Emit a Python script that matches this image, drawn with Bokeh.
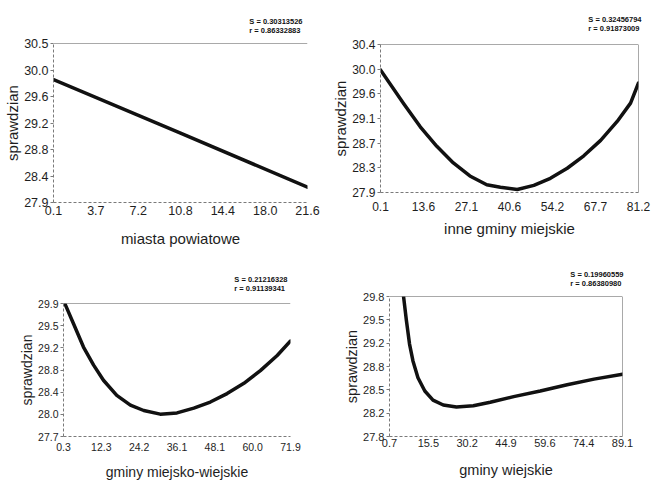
import numpy as np
from bokeh.plotting import figure
from bokeh.layouts import column, row
from bokeh.models import Range1d, FixedTicker, Span
from bokeh.embed import file_html
from bokeh.resources import INLINE

# ---------------- data ----------------
# panel 1: miasta powiatowe
p1_x = [0.1, 10.8, 21.6]
p1_y = [29.91, 29.04, 28.15]
p1_xticks = ["0.1", "3.7", "7.2", "10.8", "14.4", "18.0", "21.6"]
p1_yticks = ["27.9", "28.4", "28.8", "29.2", "29.6", "30.0", "30.5"]
p1_stats = ["S = 0.30313526", "r = 0.86332883"]

# panel 2: inne gminy miejskie
p2_x = [0.1, 7.4, 12.6, 17.8, 23.0, 28.2, 33.5, 37.8, 43.1, 48.3, 53.5, 58.8, 64.0, 69.3, 74.5, 78.7, 81.2]
p2_y = [29.97, 29.40, 29.01, 28.68, 28.40, 28.18, 28.03, 27.99, 27.95, 28.02, 28.14, 28.31, 28.52, 28.78, 29.10, 29.41, 29.75]
p2_xticks = ["0.1", "13.6", "27.1", "40.6", "54.2", "67.7", "81.2"]
p2_yticks = ["27.9", "28.3", "28.7", "29.1", "29.6", "30.0", "30.4"]
p2_stats = ["S = 0.32456794", "r = 0.91873009"]

# panel 3: gminy miejsko-wiejskie
p3_x = [0.8, 3.5, 6.6, 9.8, 12.9, 17.1, 21.4, 25.6, 30.8, 36.1, 41.4, 46.6, 51.9, 57.2, 62.4, 67.7, 71.9]
p3_y = [29.89, 29.56, 29.18, 28.88, 28.63, 28.38, 28.22, 28.13, 28.07, 28.09, 28.17, 28.27, 28.41, 28.58, 28.79, 29.04, 29.28]
p3_xticks = ["0.3", "12.3", "24.2", "36.1", "48.1", "60.0", "71.9"]
p3_yticks = ["27.7", "28.0", "28.4", "28.8", "29.2", "29.5", "29.9"]
p3_stats = ["S = 0.21216328", "r = 0.91139341"]

# panel 4: gminy wiejskie
p4_x = [6.0, 7.1, 8.3, 9.6, 11.5, 14.1, 17.2, 21.1, 26.1, 32.5, 38.9, 47.8, 57.9, 68.1, 78.3, 89.1]
p4_y = [29.81, 29.46, 29.12, 28.88, 28.64, 28.45, 28.32, 28.25, 28.22, 28.24, 28.29, 28.37, 28.45, 28.54, 28.62, 28.69]
p4_xticks = ["0.7", "15.5", "30.2", "44.9", "59.6", "74.4", "89.1"]
p4_yticks = ["27.8", "28.2", "28.5", "28.8", "29.2", "29.5", "29.8"]
p4_stats = ["S = 0.19960559", "r = 0.86380980"]

TXT = "#1e1e1e"
AX = "#7a7a7a"
FONT = "Liberation Sans"


def panel(xs, ys, xt, yt, stats, xlabel, w, h, borders, tick_fs, lab_fs,
          x_std, x_lab_std, right_border, title_standoff, title_offset):
    left, right, top, bottom = borders
    x0, x1 = float(xt[0]), float(xt[-1])
    y0, y1 = float(yt[0]), float(yt[-1])
    p = figure(width=w, height=h, output_backend="svg", toolbar_location=None,
               x_range=Range1d(x0, x1), y_range=Range1d(y0, y1),
               min_border_left=left, min_border_right=right,
               min_border_top=top, min_border_bottom=bottom)
    p.outline_line_color = None
    p.grid.visible = False
    p.background_fill_color = "white"
    p.border_fill_color = "white"

    xpos = list(np.linspace(x0, x1, len(xt)))
    ypos = list(np.linspace(y0, y1, len(yt)))
    p.xaxis.ticker = FixedTicker(ticks=xpos)
    p.yaxis.ticker = FixedTicker(ticks=ypos)
    p.xaxis.major_label_overrides = {v: s for v, s in zip(xpos, xt)}
    p.yaxis.major_label_overrides = {v: s for v, s in zip(ypos, yt)}

    for ax in (p.xaxis, p.yaxis):
        ax.axis_line_color = AX
        ax.axis_line_dash = "3 2"
        ax.axis_line_width = 1
        ax.major_tick_line_color = AX
        ax.major_tick_in = 0
        ax.major_tick_out = 3
        ax.minor_tick_line_color = None
        ax.major_label_text_font = FONT
        ax.major_label_text_font_size = tick_fs
        ax.major_label_text_color = TXT
        ax.axis_label_text_font = FONT
        ax.axis_label_text_font_size = lab_fs
        ax.axis_label_text_font_style = "normal"
        ax.axis_label_text_color = TXT

    p.xaxis.major_tick_out = 0
    p.xaxis.major_label_standoff = x_std
    p.xaxis.axis_label = xlabel
    p.xaxis.axis_label_standoff = x_lab_std
    p.yaxis.major_label_standoff = 2
    p.yaxis.axis_label = "sprawdzian"
    p.yaxis.axis_label_standoff = 0

    # statistics above the frame, right aligned
    p.title.text = "\n".join(stats)
    p.title.align = "right"
    p.title.text_font = FONT
    p.title.text_font_size = "7.5px"
    p.title.text_font_style = "bold"
    p.title.text_color = "#111111"
    p.title.text_line_height = 1.0
    p.title.standoff = title_standoff
    p.title.offset = title_offset

    # top frame line (and right one where drawn)
    p.add_layout(Span(location=y1, dimension="width", line_color="#555555", line_width=1))
    if right_border:
        p.add_layout(Span(location=x1, dimension="height", line_color="#555555", line_width=1))

    p.line(xs, ys, line_color="#111111", line_width=3.5, line_join="round", line_cap="round")
    return p


p1 = panel(p1_x, p1_y, p1_xticks, p1_yticks, p1_stats, "miasta powiatowe",
           327, 258, (53, 20, 43, 56), "12.5px", "15px", 3, 12, False, 17, 5)
p2 = panel(p2_x, p2_y, p2_xticks, p2_yticks, p2_stats, "inne gminy miejskie",
           328, 258, (53, 17, 42, 66), "12px", "15px", 9, 6, True, 24, -3)
p3 = panel(p3_x, p3_y, p3_xticks, p3_yticks, p3_stats, "gminy miejsko-wiejskie",
           327, 224, (63, 37, 45, 45), "10.5px", "14px", 6, 10, False, 21, 3)
p4 = panel(p4_x, p4_y, p4_xticks, p4_yticks, p4_stats, "gminy wiejskie",
           328, 224, (62, 33, 38, 46), "11px", "14.5px", 2, 12, True, 17, -1)

layout = column(row(column(p1), column(p2)), row(column(p3), column(p4)))

open("out.html", "w").write(file_html(layout, INLINE))
